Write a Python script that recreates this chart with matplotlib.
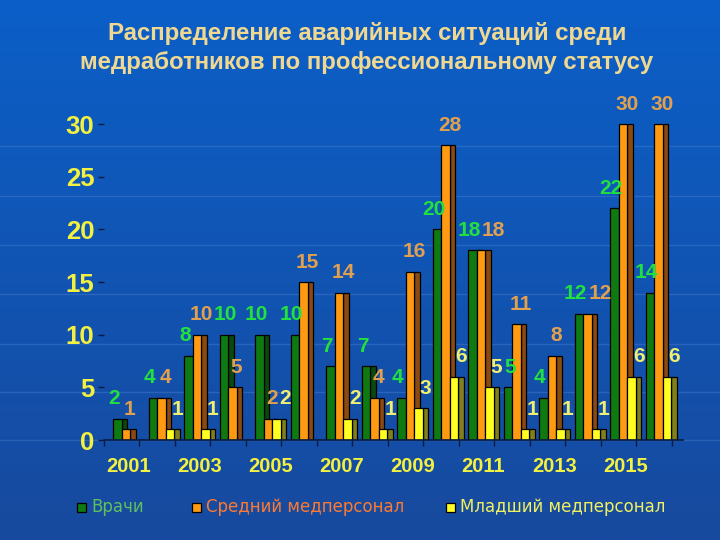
import numpy as np
import matplotlib
matplotlib.use("Agg")
import matplotlib.pyplot as plt
from matplotlib.patches import Rectangle

years = ["2001", "2002", "2003", "2004", "2005", "2006", "2007", "2008",
         "2009", "2010", "2011", "2012", "2013", "2014", "2015", "2016"]
doctors = [2, 4, 8, 10, 10, 10, 7, 7, 4, 20, 18, 5, 4, 12, 22, 14]
nurses = [1, 4, 10, 5, 2, 15, 14, 4, 16, 28, 18, 11, 8, 12, 30, 30]
junior = [0, 1, 1, 0, 2, 0, 2, 1, 3, 6, 5, 1, 1, 1, 6, 6]
series_names = ["Врачи", "Средний медперсонал", "Младший медперсонал"]
title = "Распределение аварийных ситуаций среди\nмедработников по профессиональному статусу"

fig = plt.figure(figsize=(7.2, 5.4), dpi=100)

# background gradient
bg = fig.add_axes([0, 0, 1, 1], zorder=0)
top = np.array([0x0b, 0x5f, 0xc8]) / 255
bot = np.array([0x17, 0x4a, 0x9e]) / 255
t = np.linspace(0, 1, 256)[:, None]
grad = top[None, :] * (1 - t) + bot[None, :] * t
img = np.repeat(grad[:, None, :], 4, axis=1)
bg.imshow(img, aspect="auto", extent=[0, 1, 0, 1], origin="upper")
for yy in [146, 196, 245, 294, 344, 392, 440]:
    bg.axhline(1 - yy / 540, color="#6fa0e8", lw=1.0, alpha=0.25)
bg.set_xlim(0, 1)
bg.set_ylim(0, 1)
bg.axis("off")

ax = fig.add_axes([104 / 720, 1 - 440 / 540, (683 - 104) / 720, (440 - 103) / 540], zorder=2)
ax.patch.set_alpha(0)

x = np.arange(len(years))
w = 0.24
d = 0.16
offs = [-0.42, -0.18, 0.06]
fronts = ["#0f7a12", "#ff9a12", "#ffff22"]
sides = ["#0b4a0c", "#8a4a12", "#80801e"]
label_cols = ["#22e040", "#e0a050", "#f0f070"]
label_dx = [0.02, 0.23, 0.32]
data = [doctors, nurses, junior]

for s in range(3):
    vals = np.array(data[s])
    ax.bar(x + offs[s], vals, width=w, align="edge", color=fronts[s],
           edgecolor="black", linewidth=0.9, zorder=3 + 2 * s)
    ax.bar(x + offs[s] + w, vals, width=d, align="edge", color=sides[s],
           edgecolor="black", linewidth=0.9, zorder=2 + 2 * s)

# data labels with a simple collision nudge
digit_w = 0.33   # approx width of one digit in x data units
lab_h = 1.45     # approx label height in y data units
placed = []
for i in range(len(years)):
    for s in range(3):
        v = data[s][i]
        if v == 0:
            continue
        txt = str(v)
        lx = x[i] + offs[s] + label_dx[s]
        ly = v + 1.9
        lw = len(txt) * digit_w
        for _ in range(6):
            moved = False
            for (px, py, pw) in placed:
                need = (lw + pw) / 2 + 0.03
                if abs(ly - py) < lab_h * 0.9 and abs(lx - px) < need:
                    deficit = need - abs(lx - px)
                    if deficit < 0.35:
                        lx += deficit + 0.01
                    else:
                        ly = py + lab_h
                    moved = True
            if not moved:
                break
        placed.append((lx, ly, lw))
        ax.text(lx, ly, txt, color=label_cols[s], fontsize=15, fontweight="bold",
                family="Liberation Sans", ha="center", va="center", zorder=20)

ax.set_xlim(-0.68, 15.63)
ax.set_ylim(0, 32)
for sp in ["top", "right", "left"]:
    ax.spines[sp].set_visible(False)
ax.spines["bottom"].set_color("#0a1a40")
ax.spines["bottom"].set_linewidth(1.2)
ax.spines["bottom"].set_zorder(30)

ax.set_yticks(np.arange(0, 31, 5))
ax.set_yticklabels([str(v) for v in range(0, 31, 5)])
ax.tick_params(axis="y", colors="#0a1a40", length=4, width=1, pad=3)
for lab in ax.get_yticklabels():
    lab.set_color("#f2f040")
    lab.set_fontsize(18.5)
    lab.set_fontweight("bold")
    lab.set_family("Liberation Sans")

ax.set_xticks(x[::2])
ax.set_xticklabels(years[::2])
ax.set_xticks(np.arange(17) - 0.68, minor=True)
ax.tick_params(axis="x", which="major", length=0, pad=12)
ax.tick_params(axis="x", which="minor", length=4, color="#0a1a40", width=1)
for lab in ax.get_xticklabels():
    lab.set_color("#f2f040")
    lab.set_fontsize(14.5)
    lab.set_fontweight("bold")
    lab.set_family(["Liberation Sans Narrow", "Liberation Sans"])

fig.text(367 / 720, 1 - 48 / 540, title, ha="center", va="center",
         color="#f0d890", fontsize=17.3, fontweight="bold", family="Liberation Sans",
         linespacing=1.35)

# legend
leg_x = [82, 197, 451]
leg_txt_col = ["#5fbf5f", "#ff7a30", "#f0f060"]
for s in range(3):
    fig.patches.append(Rectangle(((leg_x[s] - 5) / 720, 1 - 512 / 540), 9 / 720, 9 / 540,
                                 transform=fig.transFigure, facecolor=fronts[s],
                                 edgecolor="black", linewidth=0.9, zorder=5))
    fig.text((leg_x[s] + 9) / 720, 1 - 507 / 540, series_names[s], ha="left", va="center",
             color=leg_txt_col[s], fontsize=12, family="DejaVu Sans", zorder=5)

fig.savefig("out.png", dpi=100)
